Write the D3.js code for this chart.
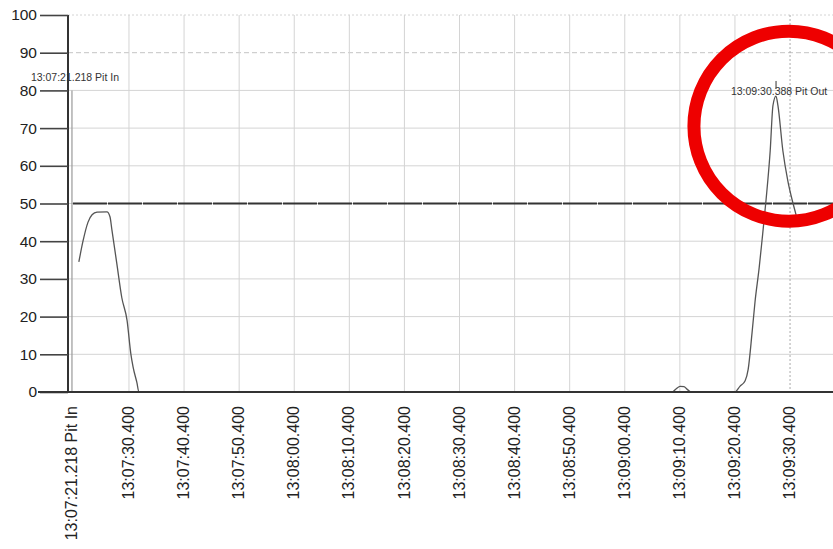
<!DOCTYPE html>
<html>
<head>
<meta charset="utf-8">
<script src="https://cdn.jsdelivr.net/npm/d3@7"></script>
<style>
  body { margin: 0; background: #fff; }
  svg { display: block; font-family: "Liberation Sans", Arial, sans-serif; }
</style>
</head>
<body>
<div id="chart"></div>
<script>
var margin = { top: 15, right: 0, bottom: 157, left: 68 },
    width = 833 - margin.left - margin.right,
    height = 549 - margin.top - margin.bottom;

// seconds after 13:07:00
var tickSecs = [30.4, 40.4, 50.4, 60.4, 70.4, 80.4, 90.4, 100.4, 110.4, 120.4, 130.4, 140.4, 150.4];
var tickLabels = ["13:07:30.400", "13:07:40.400", "13:07:50.400", "13:08:00.400", "13:08:10.400",
    "13:08:20.400", "13:08:30.400", "13:08:40.400", "13:08:50.400", "13:09:00.400",
    "13:09:10.400", "13:09:20.400", "13:09:30.400"];
var yTicks = [0, 10, 20, 30, 40, 50, 60, 70, 80, 90, 100];

// pit markers
var pitSecs = [20.05, 147.86];
var pitLabels = ["13:07:21.218 Pit In", "13:09:30.388 Pit Out"];
var pitLabelVals = [82.5, 78.8];

var limitSpeed = 50;

// speed trace
var speedSecs = [21.3, 22.05, 22.95, 23.7, 24.6, 26.4, 26.95, 27.3, 28.2, 29.1, 30.05, 30.75, 31.15, 31.85, 32.2,
    128.98, 129.7, 130.45, 131.15, 131.9, 132.4,
    140.4, 141.3, 142.25, 142.8, 143.5, 144.05, 144.8, 145.3, 146.05, 146.8, 147.3, 147.85, 148.2, 149.1, 150.0, 150.95, 151.5];
var speedVals = [34.5, 40, 45, 47, 47.7, 47.8, 46.5, 43, 34, 25, 19, 10, 6.6, 2.4, 0,
    0, 0.8, 1.5, 1.4, 0.5, 0,
    0, 1.5, 3, 6, 15.6, 24, 33, 40, 51, 64, 76, 78.5, 76, 64, 56, 50, 47];

var x = d3.scaleLinear().domain([19.33, 158.2]).range([0, width]);
var y = d3.scaleLinear().domain([0, 100]).range([height, 0]);

var svg = d3.select("#chart").append("svg")
    .attr("width", 833)
    .attr("height", 549)
    .append("g")
    .attr("transform", "translate(" + margin.left + "," + margin.top + ")");

// horizontal grid
svg.selectAll(".hgrid")
    .data(yTicks.filter(d => d > 0))
    .enter().append("line")
    .attr("x1", 0).attr("x2", width)
    .attr("y1", d => y(d)).attr("y2", d => y(d))
    .attr("stroke", d => d == 90 ? "#c4c4c4" : "#d4d4d4")
    .attr("stroke-width", 1)
    .attr("stroke-dasharray", d => d == 100 ? "2,2" : (d == 90 ? "5,3" : null));

// vertical grid
svg.selectAll(".vgrid")
    .data(tickSecs)
    .enter().append("line")
    .attr("x1", d => x(d)).attr("x2", d => x(d))
    .attr("y1", 0).attr("y2", height)
    .attr("stroke", (d, i) => i == tickSecs.length - 1 ? "#aaa" : "#d4d4d4")
    .attr("stroke-width", 1)
    .attr("stroke-dasharray", (d, i) => i == tickSecs.length - 1 ? "2,2" : null);

// pit in line
svg.append("line")
    .attr("x1", x(pitSecs[0])).attr("x2", x(pitSecs[0]))
    .attr("y1", y(80)).attr("y2", height)
    .attr("stroke", "#999").attr("stroke-width", 1.2);

// pit out tick
svg.append("line")
    .attr("x1", x(pitSecs[1])).attr("x2", x(pitSecs[1]))
    .attr("y1", y(82.5)).attr("y2", y(80.5))
    .attr("stroke", "#333").attr("stroke-width", 1);

svg.selectAll(".pitlabel")
    .data(pitSecs)
    .enter().append("text")
    .attr("x", d => x(d) + 3)
    .attr("y", (d, i) => y(pitLabelVals[i]))
    .attr("text-anchor", "middle")
    .attr("font-size", "10.5px")
    .attr("fill", "#333")
    .text((d, i) => pitLabels[i]);

// limit line
svg.append("line")
    .attr("x1", x(pitSecs[0]) + 1).attr("x2", width)
    .attr("y1", y(limitSpeed)).attr("y2", y(limitSpeed))
    .attr("stroke", "#333").attr("stroke-width", 2.2)
    .attr("stroke-dasharray", "34,1");

// speed line
var line = d3.line()
    .x((d, i) => x(speedSecs[i]))
    .y(d => y(d))
    .curve(d3.curveMonotoneX);

svg.append("path")
    .datum(speedVals)
    .attr("fill", "none")
    .attr("stroke", "#555")
    .attr("stroke-width", 1.3)
    .attr("d", line);

// y axis
var yAxis = svg.append("g")
    .call(d3.axisLeft(y).tickValues(yTicks).tickSize(28).tickPadding(3));
yAxis.select(".domain").attr("stroke", "#333").attr("stroke-width", 2)
    .attr("d", "M0," + y(100) + "V" + height);
yAxis.selectAll(".tick line").attr("stroke", "#444").attr("stroke-width", 1.6);
yAxis.selectAll(".tick text").attr("font-size", "15.5px").attr("fill", "#222")
    .attr("font-family", "'Liberation Sans', Arial, sans-serif");

// x axis line
svg.append("line")
    .attr("x1", -30).attr("x2", width)
    .attr("y1", height).attr("y2", height)
    .attr("stroke", "#333").attr("stroke-width", 1.8);

// x labels
var xVals = [pitSecs[0]].concat(tickSecs);
var xLabs = [pitLabels[0]].concat(tickLabels);
var xAxis = svg.append("g")
    .attr("transform", "translate(0," + height + ")")
    .call(d3.axisBottom(x).tickValues(xVals).tickSize(0).tickFormat((d, i) => xLabs[i]));
xAxis.select(".domain").remove();
xAxis.selectAll(".tick text")
    .attr("transform", "rotate(-90)")
    .attr("x", -14).attr("y", -1)
    .attr("dy", "0.35em")
    .attr("text-anchor", "end")
    .attr("font-size", "16px")
    .attr("fill", "#222")
    .attr("font-family", "'Liberation Sans', Arial, sans-serif");

// red annotation circle
svg.append("circle")
    .attr("cx", x(150.2))
    .attr("cy", y(70.5))
    .attr("r", 95)
    .attr("fill", "none")
    .attr("stroke", "#ee0000")
    .attr("stroke-width", 13);
</script>
</body>
</html>
